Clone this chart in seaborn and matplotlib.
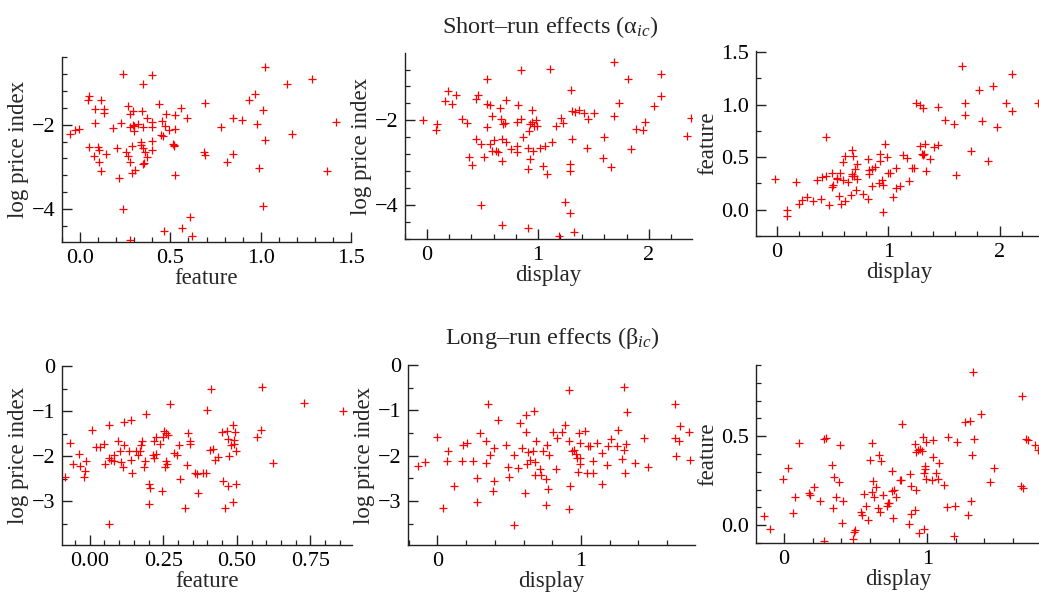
"""
Short-run / long-run marketing-mix effects: pairwise scatter panels.
Output: out.png (1039 x 598)
"""
import matplotlib; matplotlib.use("Agg")
import matplotlib.pyplot as plt
from matplotlib.ticker import MultipleLocator
import seaborn as sns

# ── Short-run panel 1: feature vs log price index ─────────────────────────────
sr1_feature = [1.023, 0.237, 0.398, 0.351, 1.143, 1.286, 0.048, 0.043, 0.117, 0.085,
               0.135, 0.135, 0.268, 0.292, 0.344, 0.279, 0.435, 0.477, 0.557, 0.527,
               0.594, 0.370, 0.455, 0.398, 0.083, 0.228, 0.292, 0.279, 0.301, 0.322,
               0.348, 0.400, 0.473, 0.492, 0.523, 0.296, 0.450, 0.459, 0.185, -0.054,
               -0.026, -0.004, 0.782, 0.847, 0.897, 0.934, 0.967, 0.980, 1.014, 1.176,
               1.417, 1.023, 0.514, 0.520, 0.335, 0.398, 0.338, 0.048, 0.098, 0.107,
               0.205, 0.287, 0.348, 0.398, 0.252, 0.264, 0.361, 0.372, 0.076, 0.144,
               0.103, 0.274, 0.348, 0.353, 0.117, 0.288, 0.303, 0.213, 0.523, 0.688,
               0.694, 0.847, 0.816, 0.990, 1.369, 0.240, 1.014, 0.607, 0.566, 0.464,
               0.620, 0.274, 0.694, 0.522]
sr1_lpi = [-0.627, -0.786, -0.810, -1.024, -1.024, -0.913, -1.325, -1.420, -1.420, -1.620,
           -1.620, -1.710, -1.550, -1.667, -1.667, -1.746, -1.508, -1.746, -1.603, -1.778,
           -1.840, -1.840, -1.920, -1.944, -1.960, -1.960, -2.000, -2.056, -2.040, -1.976,
           -2.056, -2.056, -2.040, -2.120, -2.100, -2.159, -2.238, -2.278, -2.080, -2.222,
           -2.119, -2.095, -2.063, -1.840, -1.897, -1.420, -1.270, -1.976, -1.650, -2.222,
           -1.944, -2.357, -2.452, -2.500, -2.413, -2.397, -2.476, -2.540, -2.540, -2.611,
           -2.556, -2.516, -2.563, -2.595, -2.651, -2.738, -2.651, -2.770, -2.738, -2.690,
           -2.889, -2.889, -2.929, -2.913, -3.095, -3.151, -3.071, -3.270, -3.206, -2.659,
           -2.722, -2.698, -2.897, -3.032, -3.111, -4.008, -3.944, -4.198, -4.460, -4.540,
           -4.643, -4.754, -1.484, -2.476]

# ── Short-run panel 2: display vs log price index ─────────────────────────────
sr2_display = [1.683, 0.845, 1.110, 0.537, 1.810, 2.106, 1.297, 0.190, 0.259, 0.160,
               0.220, 0.440, 0.462, 0.543, 0.567, 0.712, 0.658, 0.824, 0.944, 1.735,
               2.106, 2.051, 1.306, 1.336, 1.373, 1.412, 1.502, 1.683, 1.448, 1.207,
               1.225, 1.164, -0.036, 0.090, 0.084, 0.317, 0.356, 0.588, 0.537, 0.667,
               0.682, 0.703, 0.808, 0.845, 0.929, 0.944, 0.980, 0.989, 0.968, 0.920,
               0.869, 0.437, 0.486, 0.567, 0.603, 0.679, 0.712, 0.582, 0.618, 0.643,
               0.757, 0.808, 0.814, 0.914, 0.959, 1.020, 1.065, 1.125, 1.303, 1.445,
               0.380, 0.407, 0.516, 0.673, 0.929, 0.914, 1.041, 1.080, 1.285, 1.291,
               1.593, 1.584, 1.659, 1.840, 1.885, 1.946, 1.970, 2.347, 2.377, 0.483,
               0.673, 0.914, 1.186, 1.240, 1.285, 1.321]
sr2_lpi = [-0.630, -0.803, -0.780, -1.024, -1.024, -0.906, -1.276, -1.315, -1.410, -1.551,
           -1.606, -1.496, -1.410, -1.606, -1.646, -1.528, -1.709, -1.646, -1.748, -1.591,
           -1.417, -1.654, -1.772, -1.811, -1.748, -1.827, -1.827, -1.890, -1.969, -1.945,
           -2.063, -2.142, -2.000, -2.079, -2.220, -1.961, -2.063, -1.906, -2.165, -1.969,
           -2.079, -2.063, -2.047, -1.969, -2.079, -2.047, -2.000, -2.126, -2.126, -2.260,
           -2.400, -2.441, -2.551, -2.551, -2.472, -2.433, -2.512, -2.732, -2.732, -2.748,
           -2.677, -2.614, -2.748, -2.654, -2.717, -2.654, -2.598, -2.520, -2.441, -2.654,
           -2.866, -3.063, -2.874, -2.953, -2.906, -3.142, -3.087, -3.268, -3.024, -3.205,
           -2.394, -2.890, -3.102, -2.677, -2.205, -2.220, -2.047, -2.362, -1.945, -3.992,
           -4.465, -4.543, -4.740, -3.937, -4.189, -4.646]

# ── Short-run panel 3: display vs feature ────────────────────────────────────
sr3_display = [1.658, 2.108, 1.943, 1.817, 1.247, 1.283, 1.307, 1.448, 1.688, 2.057,
               2.108, 2.348, 1.688, 1.508, 1.589, 1.838, 1.979, 0.438, 1.739, 1.898,
               1.604, 0.969, 1.283, 1.328, 1.412, 1.448, 1.298, 1.319, 1.307, 1.373,
               1.337, 1.127, 1.169, 1.208, 1.229, 1.073, 1.019, 0.984, 0.924, 0.924,
               1.000, 1.184, 1.103, 1.073, 1.043, 0.939, 0.915, 0.948, 0.819, 0.828,
               0.849, 0.879, 0.828, 0.849, 0.774, 0.813, 0.714, 0.699, 0.675, 0.684,
               0.609, 0.594, 0.669, 0.690, 0.714, 0.669, 0.639, 0.594, 0.705, 0.663,
               0.609, 0.570, 0.558, 0.489, 0.498, 0.489, 0.540, 0.567, 0.534, 0.438,
               0.399, 0.360, 0.468, 0.390, 0.324, 0.264, 0.228, 0.198, 0.168, -0.021,
               0.093, 0.090, 0.948]
sr3_feature = [1.372, 1.287, 1.177, 1.142, 1.016, 1.000, 0.968, 0.978, 1.019, 1.016,
               0.937, 1.019, 0.899, 0.852, 0.820, 0.845, 0.789, 0.694, 0.560, 0.467,
               0.331, 0.621, 0.609, 0.621, 0.593, 0.615, 0.530, 0.530, 0.520, 0.479,
               0.372, 0.520, 0.489, 0.401, 0.401, 0.401, 0.353, 0.498, 0.530, 0.464,
               0.347, 0.274, 0.221, 0.205, 0.117, 0.284, 0.252, 0.237, 0.479, 0.379,
               0.388, 0.404, 0.341, 0.230, 0.151, 0.104, 0.432, 0.388, 0.568, 0.511,
               0.511, 0.451, 0.341, 0.322, 0.290, 0.325, 0.268, 0.278, 0.183, 0.136,
               0.079, 0.057, 0.126, 0.215, 0.237, 0.347, 0.300, 0.347, 0.290, 0.322,
               0.309, 0.278, 0.047, 0.104, 0.079, 0.117, 0.095, 0.057, 0.268, 0.293,
               -0.006, -0.057, -0.025]

# ── Long-run panel 4: feature vs log price index ─────────────────────────────
lr1_feature = [0.587, 0.413, 0.727, 0.862, 0.272, 0.398, 0.191, 0.141, 0.115, 0.067,
               0.008, -0.066, -0.085, -0.057, -0.037, -0.034, -0.020, -0.015, -0.011, 0.023,
               0.036, 0.048, 0.053, 0.065, 0.074, 0.084, 0.081, 0.096, 0.104, 0.107,
               0.113, 0.118, 0.132, 0.141, 0.144, 0.158, 0.163, 0.170, 0.178, 0.176,
               0.184, 0.187, 0.200, 0.204, 0.200, 0.215, 0.219, 0.217, 0.226, 0.226,
               0.238, 0.246, 0.249, 0.254, 0.259, 0.260, 0.257, 0.263, 0.265, 0.285,
               0.297, 0.304, 0.308, 0.325, 0.331, 0.334, 0.340, 0.340, 0.357, 0.364,
               0.368, 0.385, 0.396, 0.407, 0.419, 0.424, 0.435, 0.449, 0.453, 0.458,
               0.466, 0.470, 0.472, 0.470, 0.480, 0.486, 0.489, 0.489, 0.495, 0.497,
               0.487, 0.497, 0.570, 0.583, 0.623, 0.065]
lr1_lpi = [-0.463, -0.507, -0.824, -1.007, -0.838, -0.971, -1.059, -1.191, -1.250, -1.301,
           -1.426, -1.706, -2.456, -2.169, -1.941, -2.228, -2.456, -2.331, -2.110, -1.794,
           -1.801, -1.728, -2.184, -2.051, -2.088, -1.963, -2.110, -1.669, -1.875, -2.125,
           -2.243, -1.757, -1.875, -2.074, -2.368, -1.875, -1.963, -1.875, -1.669, -1.743,
           -2.243, -2.110, -2.625, -2.699, -3.066, -1.978, -2.051, -1.669, -1.581, -1.941,
           -1.728, -2.779, -1.581, -1.449, -1.485, -2.110, -2.243, -2.184, -1.537, -1.926,
           -1.963, -1.757, -2.507, -3.140, -2.206, -1.485, -1.669, -1.728, -2.368, -2.390,
           -2.809, -2.368, -2.368, -1.853, -1.838, -2.074, -2.022, -1.463, -2.551, -3.140,
           -1.449, -1.610, -2.000, -2.662, -1.757, -1.301, -1.632, -1.728, -1.463, -1.890,
           -3.015, -2.610, -1.581, -1.419, -2.147, -3.507]

# ── Long-run panel 5: display vs log price index ─────────────────────────────
lr2_display = [0.919, 1.298, 0.351, 1.658, 0.616, 0.670, 1.321, 0.419, 0.577, 0.891,
               1.260, 1.693, 0.000, 0.298, 0.619, 0.805, 0.870, 0.984, 1.030, 0.833,
               1.212, 1.437, 1.658, 1.681, 1.751, 0.077, 0.181, 0.205, 0.340, 0.395,
               0.477, 0.588, 0.688, 0.665, 0.628, 0.733, 0.763, 0.781, 0.914, 0.940,
               0.953, 0.963, 0.972, 0.991, 0.995, 0.991, 0.979, 1.047, 1.060, 1.112,
               1.147, 1.186, 1.251, 1.316, 1.302, 1.286, 1.181, 1.081, 1.042, 1.084,
               1.147, 1.309, 1.379, 1.467, 1.663, 1.763, -0.133, -0.086, 0.070, 0.170,
               0.251, 0.340, 0.367, 0.274, 0.395, 0.384, 0.116, 0.042, 0.274, 0.495,
               0.500, 0.565, 0.537, 0.623, 0.647, 0.681, 0.716, 0.723, 0.681, 0.756,
               0.774, 0.828, 0.607, 0.758, 0.921, 0.914, 0.537]
lr2_lpi = [-0.541, -0.496, -0.852, -0.852, -1.096, -1.015, -1.037, -1.222, -1.281, -1.333,
           -1.444, -1.348, -1.578, -1.496, -1.467, -1.481, -1.467, -1.504, -1.459, -1.615,
           -1.630, -1.607, -1.615, -1.667, -1.481, -1.889, -1.756, -1.719, -1.667, -1.830,
           -1.756, -1.837, -1.681, -1.904, -1.926, -1.904, -1.756, -1.978, -1.681, -1.889,
           -1.867, -1.963, -2.052, -1.726, -2.052, -2.185, -2.370, -1.778, -1.778, -1.726,
           -1.948, -1.793, -1.793, -1.741, -1.874, -2.074, -2.200, -2.126, -2.393, -2.393,
           -2.615, -2.393, -2.170, -2.244, -2.000, -2.096, -2.222, -2.148, -2.111, -2.126,
           -2.111, -2.163, -1.985, -2.496, -2.556, -2.778, -2.667, -3.148, -3.015, -2.259,
           -2.481, -2.274, -1.985, -2.185, -2.096, -2.148, -2.296, -2.422, -2.422, -2.519,
           -2.726, -2.296, -2.815, -3.089, -2.667, -3.170, -3.533]

# ── Long-run panel 6: display vs feature ─────────────────────────────────────
lr3_display = [1.320, 1.659, 1.379, 1.266, 1.297, 0.825, 0.105, 0.276, 0.292, 0.390,
               0.612, 0.970, 1.040, 0.993, 1.145, 1.208, 1.325, 1.689, 1.706, 1.752,
               1.776, 0.911, 0.935, 0.946, 0.965, 0.923, 1.040, 1.082, 1.313, 0.666,
               0.678, 0.603, 0.334, 0.030, 0.981, 0.986, 1.058, 1.467, 0.752, 0.350,
               0.381, 0.624, 0.806, 0.818, 0.876, 0.974, 0.993, 1.033, 1.075, 1.117,
               1.437, 1.654, 1.666, -0.007, 0.077, 0.206, 0.171, 0.182, 0.250, 0.362,
               0.414, 0.339, 0.063, -0.140, -0.098, 0.276, 0.402, 0.479, 0.491, 0.495,
               0.537, 0.542, 0.561, 0.572, 0.584, 0.612, 0.626, 0.643, 0.659, 0.673,
               0.689, 0.717, 0.724, 0.736, 0.755, 0.771, 0.764, 0.783, 0.871, 0.883,
               0.888, 0.911, 0.918, 0.942, 0.977, 1.138, 1.192, 1.185, 1.285, 1.308]
lr3_feature = [0.861, 0.725, 0.622, 0.581, 0.584, 0.571, 0.464, 0.487, 0.491, 0.449,
               0.464, 0.493, 0.478, 0.468, 0.493, 0.468, 0.487, 0.487, 0.481, 0.449,
               0.425, 0.455, 0.421, 0.427, 0.416, 0.412, 0.384, 0.352, 0.393, 0.397,
               0.360, 0.365, 0.337, 0.322, 0.331, 0.318, 0.296, 0.324, 0.305, 0.268,
               0.240, 0.247, 0.253, 0.253, 0.285, 0.294, 0.257, 0.253, 0.257, 0.228,
               0.243, 0.219, 0.210, 0.258, 0.159, 0.212, 0.182, 0.172, 0.135, 0.159,
               0.135, 0.099, 0.066, 0.051, -0.022, -0.090, 0.015, -0.075, -0.037, -0.028,
               0.075, 0.056, 0.174, 0.109, 0.028, 0.184, 0.159, 0.212, 0.094, 0.075,
               0.172, 0.107, 0.127, 0.125, 0.193, 0.197, 0.041, 0.159, 0.004, 0.221,
               0.062, 0.088, 0.197, -0.043, -0.024, 0.103, 0.109, -0.062, 0.056, 0.137]

ROW_TITLES = ["Short\u2013run effects (\u03b1$_{ic}$)", "Long\u2013run effects (\u03b2$_{ic}$)"]
RED = "#ff0000"
AXIS_COL = "#222222"
W, H = 1039, 598

sns.set_theme(style="ticks")
plt.rcParams["font.family"] = ["Liberation Serif", "DejaVu Serif"]
plt.rcParams["mathtext.fontset"] = "custom"
plt.rcParams["mathtext.rm"] = "Liberation Serif"
plt.rcParams["mathtext.it"] = "Liberation Serif:italic"
plt.rcParams["xtick.minor.visible"] = True
plt.rcParams["ytick.minor.visible"] = True

fig = plt.figure(figsize=(W / 100, H / 100), dpi=100)


def px_axes(left, right, top, bottom):
    return fig.add_axes([left / W, 1 - bottom / H, (right - left) / W, (bottom - top) / H])


def panel(ax, x, y, xlabel, ylabel, xlim, ylim, xmaj, xmin, ymaj, ymin):
    sns.scatterplot(x=x, y=y, ax=ax, marker="+", color=RED, s=30, linewidth=0.9)
    ax.set_xlim(*xlim)
    ax.set_ylim(*ylim)
    ax.xaxis.set_major_locator(MultipleLocator(xmaj))
    ax.xaxis.set_minor_locator(MultipleLocator(xmin))
    ax.yaxis.set_major_locator(MultipleLocator(ymaj))
    ax.yaxis.set_minor_locator(MultipleLocator(ymin))
    ax.set_xlabel(xlabel, fontsize=16.5, labelpad=0)
    ax.set_ylabel(ylabel, fontsize=16.5, labelpad=2)
    ax.tick_params(which="major", direction="in", length=7, width=1.0,
                   labelsize=16, pad=5, color=AXIS_COL, labelcolor="black")
    ax.tick_params(which="minor", direction="in", length=3.5, width=0.9, color=AXIS_COL)
    ax.tick_params(axis="x", which="both", bottom=True, top=False)
    ax.tick_params(axis="y", which="both", left=True, right=False)
    sns.despine(ax=ax)
    for side in ("left", "bottom"):
        ax.spines[side].set_color(AXIS_COL)
        ax.spines[side].set_linewidth(1.0)
    ax.set_facecolor("white")


# ── top row ──────────────────────────────────────────────────────────────────
ax1 = px_axes(62, 351, 57, 242)
panel(ax1, sr1_feature, sr1_lpi, "feature", "log price index",
      (-0.10, 1.50), (-4.79, -0.39), 0.5, 0.1, 2, 0.4)
ax2 = px_axes(405, 692, 53, 239)
panel(ax2, sr2_display, sr2_lpi, "display", "log price index",
      (-0.20, 2.39), (-4.80, -0.41), 1, 0.2, 2, 0.4)
ax3 = px_axes(756, 1043, 51, 236)
panel(ax3, sr3_display, sr3_feature, "display", "feature",
      (-0.19, 2.39), (-0.25, 1.51), 1, 0.2, 0.5, 0.25)

# ── bottom row ───────────────────────────────────────────────────────────────
ax4 = px_axes(62, 352, 366, 545)
panel(ax4, lr1_feature, lr1_lpi, "feature", "log price index",
      (-0.094, 0.891), (-3.97, 0.0), 0.25, 0.05, 1, 0.5)
ax5 = px_axes(408, 695, 365, 545)
panel(ax5, lr2_display, lr2_lpi, "display", "log price index",
      (-0.205, 1.795), (-3.97, 0.0), 1, 0.2, 1, 0.5)
ax6 = px_axes(756, 1041, 365, 543)
panel(ax6, lr3_display, lr3_feature, "display", "feature",
      (-0.197, 1.795), (-0.10, 0.90), 1, 0.2, 0.5, 0.1)

fig.text(550 / W, 1 - 33 / H, ROW_TITLES[0], ha="center", va="baseline", fontsize=17.5)
fig.text(552 / W, 1 - 344 / H, ROW_TITLES[1], ha="center", va="baseline", fontsize=17.5)

fig.savefig("out.png", dpi=100, facecolor="white")
